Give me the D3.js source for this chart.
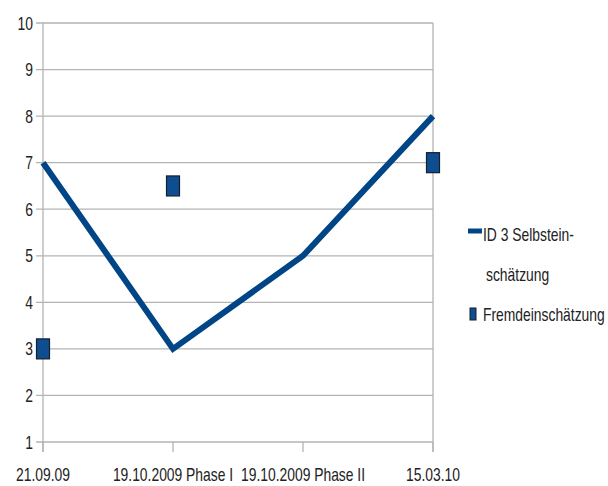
<!DOCTYPE html>
<html>
<head>
<meta charset="utf-8">
<script src="https://cdn.jsdelivr.net/npm/d3@7"></script>
<style>
  html, body { margin: 0; padding: 0; background: #fff; }
  svg { display: block; }
  text { font-family: "Liberation Sans", Arial, sans-serif; fill: #222; }
</style>
</head>
<body>
<svg id="chart" width="608" height="486"></svg>
<script>
// Assessment dates (x categories)
const categories = ["21.09.09", "19.10.2009 Phase I", "19.10.2009 Phase II", "15.03.10"];
// Self assessment (line)
const selfValues = [7, 3, 5, 8];
// External assessment (square markers); null = no rating
const externalValues = [3, 6.5, null, 7];
// Y axis ticks
const yTicks = [1, 2, 3, 4, 5, 6, 7, 8, 9, 10];
const legendLabels = [["ID 3 Selbstein-", "schätzung"], ["Fremdeinschätzung"]];

const svg = d3.select("#chart");
const plotLeft = 43, plotRight = 433, plotTop = 23, plotBottom = 442;
const sx = 0.73; // condensed text
const fs = 19;

const x = d3.scalePoint().domain(categories).range([plotLeft, plotRight]).padding(0);
const y = d3.scaleLinear().domain([1, 10]).range([plotBottom, plotTop]);

const gridColor = "#b3b3b3";
const blue = "#004586";

// horizontal grid lines
svg.append("g").selectAll("line").data(yTicks).join("line")
  .attr("x1", plotLeft - 7).attr("x2", plotRight)
  .attr("y1", d => y(d)).attr("y2", d => y(d))
  .attr("stroke", gridColor).attr("stroke-width", 1.3);

// y axis and right border
svg.append("line").attr("x1", plotLeft).attr("x2", plotLeft).attr("y1", plotTop).attr("y2", plotBottom + 10)
  .attr("stroke", gridColor).attr("stroke-width", 1.3);
svg.append("line").attr("x1", plotRight).attr("x2", plotRight).attr("y1", plotTop).attr("y2", plotBottom + 10)
  .attr("stroke", gridColor).attr("stroke-width", 1.3);

// x ticks
svg.append("g").selectAll("line").data(categories).join("line")
  .attr("x1", d => x(d)).attr("x2", d => x(d))
  .attr("y1", plotBottom).attr("y2", plotBottom + 10)
  .attr("stroke", gridColor).attr("stroke-width", 1.3);

// y tick labels
svg.append("g").selectAll("text").data(yTicks).join("text")
  .attr("transform", d => `translate(33,${y(d) + 6.5}) scale(${sx},1)`)
  .attr("text-anchor", "end").attr("font-size", fs)
  .text(d => d);

// x tick labels
svg.append("g").selectAll("text").data(categories).join("text")
  .attr("transform", d => `translate(${x(d)},481) scale(${sx},1)`)
  .attr("text-anchor", "middle").attr("font-size", fs)
  .text(d => d);

// self assessment line
const line = d3.line().x((d, i) => x(categories[i])).y(d => y(d));
svg.append("path").datum(selfValues)
  .attr("d", line).attr("fill", "none")
  .attr("stroke", blue).attr("stroke-width", 6)
  .attr("stroke-linejoin", "miter");

// external assessment markers
const pts = externalValues.map((v, i) => ({ c: categories[i], v })).filter(d => d.v != null);
svg.append("g").selectAll("rect").data(pts).join("rect")
  .attr("x", d => x(d.c) - 6.5).attr("y", d => y(d.v) - 10)
  .attr("width", 13).attr("height", 20)
  .attr("fill", "#0d4d90").attr("stroke", "#15202e").attr("stroke-width", 1.2);

// legend
const lg = svg.append("g");
lg.append("line").attr("x1", 468).attr("x2", 482).attr("y1", 231).attr("y2", 231)
  .attr("stroke", blue).attr("stroke-width", 5);
legendLabels[0].forEach((t, i) => {
  lg.append("text")
    .attr("transform", `translate(${i === 0 ? 483 : 486},${241 + i * 40}) scale(${sx},1)`)
    .attr("font-size", fs).text(t);
});
lg.append("rect").attr("x", 470).attr("y", 308).attr("width", 6).attr("height", 12)
  .attr("fill", "#0d4d90").attr("stroke", "#15202e").attr("stroke-width", 1);
lg.append("text").attr("transform", `translate(483,321) scale(${sx},1)`)
  .attr("font-size", fs).text(legendLabels[1][0]);
</script>
</body>
</html>
